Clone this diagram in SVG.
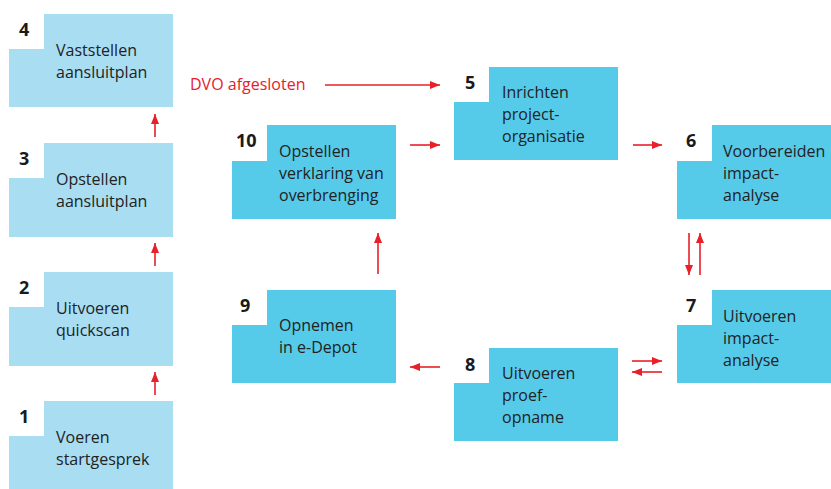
<svg xmlns="http://www.w3.org/2000/svg" width="831" height="489" viewBox="0 0 831 489">
<defs>
<style>
.l{fill:#a9ddf2}
.d{fill:#56cae9}
.n{font-family:"Open Sans","Noto Sans",sans-serif;font-weight:bold;font-size:18px;fill:#1a1a1a}
.t{font-family:"Open Sans","Noto Sans",sans-serif;font-size:16px;fill:#222}
.r{font-family:"Open Sans","Noto Sans",sans-serif;font-size:16px;fill:#e8202a}
.c line{stroke:#e8202a;stroke-width:1.6;marker-end:url(#ah)}
</style>
<marker id="ah" viewBox="0 0 10 8" refX="10" refY="4" markerWidth="10" markerHeight="8" markerUnits="userSpaceOnUse" orient="auto">
<path d="M0,0L10,4L0,8z" fill="#e8202a"/>
</marker>
</defs>
<rect width="831" height="489" fill="#fff"/>
<g id="node4"><path class="l" d="M44,14H173V107H9V49H44Z"/><text class="n" x="19" y="36">4</text><text class="t" x="56" y="56">Vaststellen</text><text class="t" x="56" y="78">aansluitplan</text></g>
<g id="node3"><path class="l" d="M44,143H173V237H9V178H44Z"/><text class="n" x="19" y="165">3</text><text class="t" x="56" y="185">Opstellen</text><text class="t" x="56" y="207">aansluitplan</text></g>
<g id="node2"><path class="l" d="M44,272H173V366H9V307H44Z"/><text class="n" x="19" y="294">2</text><text class="t" x="56" y="314">Uitvoeren</text><text class="t" x="56" y="336">quickscan</text></g>
<g id="node1"><path class="l" d="M44,401H173V489H9V436H44Z"/><text class="n" x="19" y="423">1</text><text class="t" x="56" y="443">Voeren</text><text class="t" x="56" y="465">startgesprek</text></g>
<g id="node10"><path class="d" d="M267,125H396V219H232V161H267Z"/><text class="n" x="236" y="147">10</text><text class="t" x="279" y="157">Opstellen</text><text class="t" x="279" y="179">verklaring van</text><text class="t" x="279" y="201">overbrenging</text></g>
<g id="node5"><path class="d" d="M489,67H618V160H454V102H489Z"/><text class="n" x="465" y="89">5</text><text class="t" x="502" y="98">Inrichten</text><text class="t" x="502" y="120">project-</text><text class="t" x="502" y="142">organisatie</text></g>
<g id="node6"><path class="d" d="M712,125H831V219H677V161H712Z"/><text class="n" x="686" y="147">6</text><text class="t" x="723" y="157">Voorbereiden</text><text class="t" x="723" y="179">impact-</text><text class="t" x="723" y="201">analyse</text></g>
<g id="node7"><path class="d" d="M712,290H831V383H677V325H712Z"/><text class="n" x="686" y="312">7</text><text class="t" x="723" y="322">Uitvoeren</text><text class="t" x="723" y="344">impact-</text><text class="t" x="723" y="366">analyse</text></g>
<g id="node8"><path class="d" d="M489,348H618V441H454V383H489Z"/><text class="n" x="465" y="371">8</text><text class="t" x="502" y="379">Uitvoeren</text><text class="t" x="502" y="401">proef-</text><text class="t" x="502" y="423">opname</text></g>
<g id="node9"><path class="d" d="M267,290H396V383H232V325H267Z"/><text class="n" x="240" y="312">9</text><text class="t" x="279" y="331">Opnemen</text><text class="t" x="279" y="353">in e-Depot</text></g>
<text class="r" x="190" y="90">DVO afgesloten</text>
<g id="connectors" class="c">
<line x1="155" y1="395" x2="155" y2="372"/>
<line x1="155" y1="266" x2="155" y2="243"/>
<line x1="155" y1="137" x2="155" y2="114"/>
<line x1="325" y1="85" x2="440" y2="85"/>
<line x1="410" y1="145" x2="440" y2="145"/>
<line x1="633" y1="145" x2="662" y2="145"/>
<line x1="689" y1="233" x2="689" y2="275"/>
<line x1="700" y1="275" x2="700" y2="233"/>
<line x1="632" y1="361" x2="662" y2="361"/>
<line x1="662" y1="372" x2="632" y2="372"/>
<line x1="440" y1="367" x2="410" y2="367"/>
<line x1="378" y1="274" x2="378" y2="233"/>
</g>
</svg>
